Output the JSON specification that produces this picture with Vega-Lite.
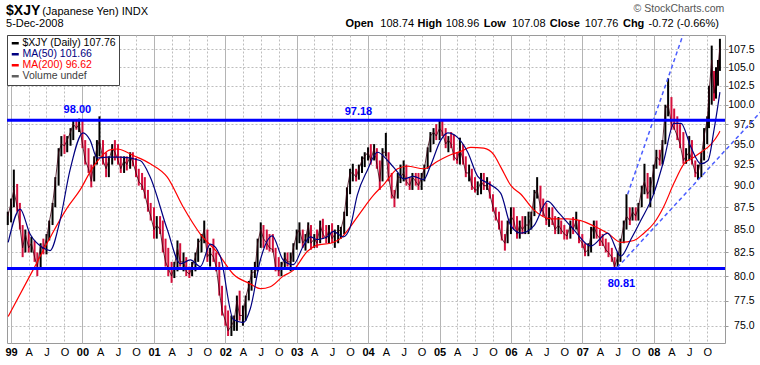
{
"$schema": "https://vega.github.io/schema/vega-lite/v6.json",
"width": 718, "height": 308,
"autosize": {"type": "none"},
"padding": {"left": 7, "top": 35, "right": 35, "bottom": 22},
"background": "white",
"config": {"view": {"stroke": "#9a9a9a", "strokeWidth": 1}, "font": "Liberation Sans"},
"datasets": {
"px": [
{"d":"1998-12-15","h":87.0,"l":85.5,"c":86.5},
{"d":"1999-01-01","h":88.5,"l":85.8,"c":88.0},
{"d":"1999-01-15","h":91.9,"l":87.5,"c":89.5},
{"d":"1999-02-01","h":90.2,"l":87.0,"c":87.5},
{"d":"1999-02-15","h":88.0,"l":85.0,"c":85.3},
{"d":"1999-03-01","h":85.5,"l":82.0,"c":83.0},
{"d":"1999-03-15","h":85.0,"l":82.5,"c":84.5},
{"d":"1999-04-01","h":84.8,"l":82.5,"c":83.0},
{"d":"1999-04-15","h":84.2,"l":82.5,"c":83.5},
{"d":"1999-05-01","h":83.8,"l":81.5,"c":82.0},
{"d":"1999-05-15","h":82.5,"l":80.0,"c":81.0},
{"d":"1999-06-01","h":83.5,"l":80.8,"c":83.2},
{"d":"1999-06-15","h":84.0,"l":82.3,"c":82.8},
{"d":"1999-07-01","h":84.5,"l":82.3,"c":84.0},
{"d":"1999-07-15","h":86.0,"l":83.8,"c":85.8},
{"d":"1999-08-01","h":88.0,"l":85.5,"c":87.8},
{"d":"1999-08-15","h":91.0,"l":87.5,"c":90.5},
{"d":"1999-09-01","h":94.5,"l":90.0,"c":94.0},
{"d":"1999-09-15","h":96.0,"l":93.5,"c":95.0},
{"d":"1999-10-01","h":96.2,"l":93.8,"c":94.8},
{"d":"1999-10-15","h":96.0,"l":94.0,"c":95.5},
{"d":"1999-11-01","h":97.0,"l":94.8,"c":96.5},
{"d":"1999-11-15","h":98.0,"l":95.5,"c":97.5},
{"d":"1999-12-01","h":98.0,"l":96.8,"c":97.0},
{"d":"1999-12-15","h":98.2,"l":96.5,"c":97.5},
{"d":"2000-01-01","h":98.0,"l":94.5,"c":95.0},
{"d":"2000-01-15","h":95.5,"l":92.5,"c":93.0},
{"d":"2000-02-01","h":94.5,"l":91.5,"c":92.0},
{"d":"2000-02-15","h":92.5,"l":89.8,"c":90.5},
{"d":"2000-03-01","h":93.5,"l":90.5,"c":93.0},
{"d":"2000-03-15","h":95.5,"l":92.5,"c":94.5},
{"d":"2000-03-28","h":98.5,"l":93.5,"c":95.5},
{"d":"2000-04-15","h":95.5,"l":92.5,"c":93.0},
{"d":"2000-05-01","h":94.0,"l":91.0,"c":92.0},
{"d":"2000-05-15","h":93.5,"l":91.0,"c":93.0},
{"d":"2000-06-01","h":95.0,"l":92.5,"c":94.5},
{"d":"2000-06-15","h":95.5,"l":93.0,"c":94.0},
{"d":"2000-07-01","h":95.0,"l":92.5,"c":93.0},
{"d":"2000-07-15","h":93.5,"l":91.5,"c":92.0},
{"d":"2000-08-01","h":93.5,"l":91.5,"c":93.0},
{"d":"2000-08-15","h":93.5,"l":91.8,"c":92.5},
{"d":"2000-09-01","h":94.0,"l":92.0,"c":93.5},
{"d":"2000-09-15","h":94.0,"l":92.3,"c":92.8},
{"d":"2000-10-01","h":93.3,"l":91.0,"c":91.5},
{"d":"2000-10-15","h":92.0,"l":90.0,"c":90.5},
{"d":"2000-11-01","h":91.5,"l":89.5,"c":90.0},
{"d":"2000-11-15","h":91.0,"l":88.5,"c":89.0},
{"d":"2000-12-01","h":89.5,"l":87.0,"c":87.5},
{"d":"2000-12-15","h":88.0,"l":86.0,"c":86.5},
{"d":"2001-01-01","h":87.5,"l":84.0,"c":85.0},
{"d":"2001-01-15","h":86.5,"l":84.0,"c":85.5},
{"d":"2001-02-01","h":86.5,"l":84.5,"c":85.0},
{"d":"2001-02-15","h":86.0,"l":82.5,"c":83.0},
{"d":"2001-03-01","h":84.0,"l":81.0,"c":81.5},
{"d":"2001-03-15","h":83.0,"l":80.0,"c":80.8},
{"d":"2001-04-01","h":81.5,"l":79.3,"c":80.0},
{"d":"2001-04-15","h":81.5,"l":79.8,"c":81.0},
{"d":"2001-05-01","h":83.8,"l":80.5,"c":83.0},
{"d":"2001-05-15","h":83.5,"l":81.0,"c":81.5},
{"d":"2001-06-01","h":82.5,"l":80.5,"c":81.5},
{"d":"2001-06-15","h":82.0,"l":80.0,"c":80.5},
{"d":"2001-07-01","h":81.0,"l":79.8,"c":80.2},
{"d":"2001-07-15","h":81.5,"l":80.0,"c":81.0},
{"d":"2001-08-01","h":82.5,"l":80.5,"c":82.0},
{"d":"2001-08-15","h":84.0,"l":81.5,"c":83.5},
{"d":"2001-09-01","h":84.5,"l":82.5,"c":84.0},
{"d":"2001-09-15","h":86.0,"l":83.5,"c":85.0},
{"d":"2001-10-01","h":85.0,"l":81.5,"c":82.0},
{"d":"2001-10-15","h":83.0,"l":81.0,"c":82.5},
{"d":"2001-11-01","h":84.0,"l":81.5,"c":82.0},
{"d":"2001-11-15","h":82.5,"l":80.5,"c":81.0},
{"d":"2001-12-01","h":81.5,"l":78.0,"c":78.5},
{"d":"2001-12-15","h":79.0,"l":76.0,"c":76.5},
{"d":"2002-01-01","h":77.0,"l":75.0,"c":75.5},
{"d":"2002-01-15","h":76.5,"l":74.0,"c":74.5},
{"d":"2002-02-01","h":76.0,"l":74.0,"c":75.0},
{"d":"2002-02-15","h":76.0,"l":74.5,"c":75.5},
{"d":"2002-03-01","h":78.0,"l":74.5,"c":77.5},
{"d":"2002-03-15","h":78.5,"l":75.5,"c":76.0},
{"d":"2002-04-01","h":77.0,"l":75.0,"c":76.0},
{"d":"2002-04-15","h":78.0,"l":75.5,"c":77.8},
{"d":"2002-05-01","h":79.5,"l":77.5,"c":79.0},
{"d":"2002-05-15","h":80.7,"l":78.5,"c":80.3},
{"d":"2002-06-01","h":81.5,"l":79.8,"c":80.5},
{"d":"2002-06-15","h":84.0,"l":80.5,"c":83.5},
{"d":"2002-07-01","h":85.8,"l":83.0,"c":85.0},
{"d":"2002-07-15","h":85.5,"l":83.0,"c":84.0},
{"d":"2002-08-01","h":85.0,"l":82.8,"c":83.5},
{"d":"2002-08-15","h":84.5,"l":82.6,"c":83.0},
{"d":"2002-09-01","h":84.5,"l":82.5,"c":82.8},
{"d":"2002-09-15","h":83.0,"l":80.5,"c":81.0},
{"d":"2002-10-01","h":82.0,"l":80.0,"c":80.5},
{"d":"2002-10-15","h":81.5,"l":80.0,"c":81.0},
{"d":"2002-11-01","h":82.5,"l":80.8,"c":82.0},
{"d":"2002-11-15","h":82.5,"l":81.0,"c":81.5},
{"d":"2002-12-01","h":82.5,"l":80.5,"c":81.5},
{"d":"2002-12-15","h":83.5,"l":81.5,"c":83.0},
{"d":"2003-01-01","h":85.0,"l":82.8,"c":84.5},
{"d":"2003-01-15","h":85.8,"l":83.5,"c":85.0},
{"d":"2003-02-01","h":85.0,"l":83.0,"c":83.5},
{"d":"2003-02-15","h":84.5,"l":82.7,"c":84.0},
{"d":"2003-03-01","h":85.8,"l":83.5,"c":85.5},
{"d":"2003-03-15","h":85.5,"l":82.8,"c":83.5},
{"d":"2003-04-01","h":84.5,"l":83.0,"c":84.0},
{"d":"2003-04-15","h":85.0,"l":83.0,"c":83.5},
{"d":"2003-05-01","h":86.0,"l":83.5,"c":85.5},
{"d":"2003-05-15","h":86.2,"l":84.0,"c":84.5},
{"d":"2003-06-01","h":85.5,"l":83.5,"c":84.0},
{"d":"2003-06-15","h":85.5,"l":83.5,"c":85.0},
{"d":"2003-07-01","h":85.7,"l":83.5,"c":84.0},
{"d":"2003-07-15","h":85.0,"l":83.0,"c":84.5},
{"d":"2003-08-01","h":85.5,"l":83.5,"c":84.8},
{"d":"2003-08-15","h":85.3,"l":84.0,"c":85.0},
{"d":"2003-09-01","h":87.0,"l":84.5,"c":86.5},
{"d":"2003-09-15","h":89.8,"l":86.5,"c":89.5},
{"d":"2003-10-01","h":92.0,"l":89.0,"c":91.5},
{"d":"2003-10-15","h":92.6,"l":90.5,"c":91.5},
{"d":"2003-11-01","h":92.0,"l":90.5,"c":91.0},
{"d":"2003-11-15","h":92.5,"l":90.7,"c":92.0},
{"d":"2003-12-01","h":93.5,"l":91.5,"c":93.0},
{"d":"2003-12-15","h":94.0,"l":92.2,"c":93.5},
{"d":"2004-01-01","h":94.6,"l":93.0,"c":94.0},
{"d":"2004-01-15","h":95.0,"l":92.5,"c":93.0},
{"d":"2004-02-01","h":95.0,"l":93.0,"c":94.5},
{"d":"2004-02-15","h":94.5,"l":92.0,"c":92.5},
{"d":"2004-03-01","h":93.0,"l":89.5,"c":90.5},
{"d":"2004-03-15","h":94.5,"l":90.5,"c":94.0},
{"d":"2004-04-01","h":96.4,"l":93.5,"c":94.0},
{"d":"2004-04-15","h":94.0,"l":90.5,"c":91.0},
{"d":"2004-05-01","h":91.5,"l":88.5,"c":89.0},
{"d":"2004-05-15","h":89.5,"l":87.5,"c":88.5},
{"d":"2004-06-01","h":91.5,"l":88.5,"c":91.0},
{"d":"2004-06-15","h":92.5,"l":90.3,"c":91.0},
{"d":"2004-07-01","h":93.0,"l":90.5,"c":91.5},
{"d":"2004-07-15","h":92.5,"l":90.0,"c":90.5},
{"d":"2004-08-01","h":91.0,"l":89.5,"c":90.0},
{"d":"2004-08-15","h":91.5,"l":89.5,"c":91.0},
{"d":"2004-09-01","h":91.5,"l":90.0,"c":90.5},
{"d":"2004-09-15","h":91.5,"l":89.5,"c":90.0},
{"d":"2004-10-01","h":91.5,"l":89.5,"c":91.0},
{"d":"2004-10-15","h":92.5,"l":90.5,"c":92.0},
{"d":"2004-11-01","h":94.6,"l":92.0,"c":94.5},
{"d":"2004-11-15","h":96.5,"l":94.0,"c":96.0},
{"d":"2004-12-01","h":97.0,"l":95.0,"c":96.5},
{"d":"2004-12-15","h":97.5,"l":95.5,"c":96.0},
{"d":"2005-01-01","h":98.0,"l":95.5,"c":97.0},
{"d":"2005-01-15","h":98.0,"l":96.0,"c":96.5},
{"d":"2005-02-01","h":97.0,"l":94.5,"c":95.0},
{"d":"2005-02-15","h":96.0,"l":94.0,"c":95.5},
{"d":"2005-03-01","h":96.5,"l":94.5,"c":95.0},
{"d":"2005-03-15","h":96.2,"l":93.0,"c":93.5},
{"d":"2005-04-01","h":94.0,"l":92.6,"c":93.0},
{"d":"2005-04-15","h":95.8,"l":92.5,"c":94.5},
{"d":"2005-05-01","h":95.0,"l":92.5,"c":93.0},
{"d":"2005-05-15","h":93.5,"l":91.0,"c":91.5},
{"d":"2005-06-01","h":92.5,"l":90.5,"c":91.5},
{"d":"2005-06-15","h":92.0,"l":89.5,"c":90.0},
{"d":"2005-07-01","h":91.0,"l":89.2,"c":89.5},
{"d":"2005-07-15","h":90.5,"l":88.9,"c":89.5},
{"d":"2005-08-01","h":91.5,"l":89.0,"c":90.5},
{"d":"2005-08-15","h":91.5,"l":89.5,"c":90.0},
{"d":"2005-09-01","h":91.0,"l":89.5,"c":90.0},
{"d":"2005-09-15","h":90.5,"l":88.5,"c":89.0},
{"d":"2005-10-01","h":89.0,"l":87.0,"c":87.5},
{"d":"2005-10-15","h":87.5,"l":86.0,"c":86.5},
{"d":"2005-11-01","h":87.0,"l":85.0,"c":85.5},
{"d":"2005-11-15","h":86.0,"l":83.8,"c":84.0},
{"d":"2005-12-01","h":84.5,"l":82.7,"c":83.5},
{"d":"2005-12-15","h":86.0,"l":83.5,"c":85.5},
{"d":"2006-01-01","h":87.5,"l":84.5,"c":86.5},
{"d":"2006-01-15","h":87.5,"l":85.0,"c":86.0},
{"d":"2006-02-01","h":86.5,"l":84.0,"c":84.5},
{"d":"2006-02-15","h":86.0,"l":84.0,"c":85.5},
{"d":"2006-03-01","h":86.5,"l":84.5,"c":85.0},
{"d":"2006-03-15","h":86.5,"l":84.5,"c":85.5},
{"d":"2006-04-01","h":87.0,"l":84.5,"c":85.5},
{"d":"2006-04-15","h":87.0,"l":85.0,"c":86.5},
{"d":"2006-05-01","h":89.5,"l":86.5,"c":89.0},
{"d":"2006-05-15","h":91.0,"l":88.5,"c":89.5},
{"d":"2006-06-01","h":90.0,"l":87.0,"c":87.5},
{"d":"2006-06-15","h":88.5,"l":86.5,"c":87.0},
{"d":"2006-07-01","h":88.0,"l":85.5,"c":86.0},
{"d":"2006-07-15","h":87.5,"l":85.3,"c":86.5},
{"d":"2006-08-01","h":87.5,"l":85.5,"c":86.0},
{"d":"2006-08-15","h":86.5,"l":84.5,"c":85.0},
{"d":"2006-09-01","h":86.4,"l":84.5,"c":85.5},
{"d":"2006-09-15","h":86.0,"l":84.5,"c":85.0},
{"d":"2006-10-01","h":85.5,"l":83.9,"c":84.5},
{"d":"2006-10-15","h":85.0,"l":83.9,"c":84.3},
{"d":"2006-11-01","h":86.0,"l":84.0,"c":85.5},
{"d":"2006-11-15","h":86.4,"l":84.5,"c":85.0},
{"d":"2006-12-01","h":87.0,"l":85.0,"c":86.0},
{"d":"2006-12-15","h":86.0,"l":83.5,"c":84.0},
{"d":"2007-01-01","h":84.5,"l":83.0,"c":83.5},
{"d":"2007-01-15","h":83.5,"l":82.1,"c":82.5},
{"d":"2007-02-01","h":83.5,"l":82.1,"c":82.8},
{"d":"2007-02-15","h":85.3,"l":82.5,"c":84.5},
{"d":"2007-03-01","h":86.0,"l":84.0,"c":85.5},
{"d":"2007-03-15","h":86.0,"l":84.0,"c":84.5},
{"d":"2007-04-01","h":85.0,"l":83.2,"c":84.0},
{"d":"2007-04-15","h":84.5,"l":83.2,"c":83.5},
{"d":"2007-05-01","h":84.0,"l":82.5,"c":82.8},
{"d":"2007-05-15","h":83.6,"l":82.0,"c":82.5},
{"d":"2007-06-01","h":83.0,"l":81.5,"c":82.0},
{"d":"2007-06-15","h":82.0,"l":80.81,"c":81.0},
{"d":"2007-07-01","h":82.5,"l":80.81,"c":82.0},
{"d":"2007-07-15","h":84.0,"l":81.5,"c":83.5},
{"d":"2007-08-01","h":86.0,"l":83.5,"c":85.5},
{"d":"2007-08-15","h":89.0,"l":85.0,"c":86.5},
{"d":"2007-09-01","h":87.5,"l":85.5,"c":86.0},
{"d":"2007-09-15","h":87.5,"l":86.0,"c":87.0},
{"d":"2007-10-01","h":87.5,"l":86.0,"c":86.5},
{"d":"2007-10-15","h":88.0,"l":86.0,"c":87.5},
{"d":"2007-11-01","h":90.0,"l":87.5,"c":89.5},
{"d":"2007-11-15","h":92.6,"l":89.0,"c":90.5},
{"d":"2007-12-01","h":91.5,"l":88.5,"c":89.0},
{"d":"2007-12-15","h":91.0,"l":87.5,"c":89.5},
{"d":"2008-01-01","h":92.5,"l":89.0,"c":92.0},
{"d":"2008-01-15","h":94.3,"l":92.0,"c":93.5},
{"d":"2008-02-01","h":94.3,"l":92.4,"c":93.0},
{"d":"2008-02-15","h":95.5,"l":92.5,"c":95.0},
{"d":"2008-03-01","h":100.0,"l":95.0,"c":99.5},
{"d":"2008-03-15","h":103.5,"l":98.5,"c":100.0},
{"d":"2008-04-01","h":101.0,"l":96.8,"c":97.5},
{"d":"2008-04-15","h":99.5,"l":96.8,"c":97.0},
{"d":"2008-05-01","h":98.5,"l":95.5,"c":96.0},
{"d":"2008-05-15","h":97.5,"l":94.5,"c":95.0},
{"d":"2008-06-01","h":96.5,"l":92.6,"c":93.0},
{"d":"2008-06-15","h":94.5,"l":92.6,"c":93.5},
{"d":"2008-07-01","h":96.0,"l":93.0,"c":94.0},
{"d":"2008-07-15","h":95.5,"l":92.5,"c":93.0},
{"d":"2008-08-01","h":93.0,"l":91.0,"c":91.5},
{"d":"2008-08-15","h":92.5,"l":90.7,"c":91.5},
{"d":"2008-09-01","h":94.0,"l":91.0,"c":93.5},
{"d":"2008-09-15","h":97.0,"l":93.0,"c":96.0},
{"d":"2008-10-01","h":98.5,"l":95.0,"c":98.0},
{"d":"2008-10-10","h":102.5,"l":97.0,"c":101.5},
{"d":"2008-10-24","h":108.0,"l":100.0,"c":106.0},
{"d":"2008-11-05","h":104.5,"l":100.5,"c":101.5},
{"d":"2008-11-15","h":105.0,"l":100.8,"c":103.0},
{"d":"2008-11-25","h":106.0,"l":102.5,"c":105.0},
{"d":"2008-12-05","h":108.96,"l":104.5,"c":107.76}
],
"m200": [
{"d":"1998-12-17","v":75.9},{"d":"1999-04-22","v":80.6},{"d":"1999-07-19","v":84.1},{"d":"1999-10-14","v":87.4},
{"d":"1999-12-20","v":89.5},{"d":"2000-02-24","v":92.2},{"d":"2000-05-22","v":94.3},{"d":"2000-06-27","v":94.4},
{"d":"2000-09-17","v":93.6},{"d":"2000-12-13","v":92.6},{"d":"2001-03-10","v":91.0},{"d":"2001-05-31","v":87.5},
{"d":"2001-08-26","v":84.5},{"d":"2001-11-21","v":82.5},{"d":"2002-02-11","v":80.2},{"d":"2002-05-09","v":79.2},
{"d":"2002-06-29","v":78.7},{"d":"2002-08-19","v":78.9},{"d":"2002-10-24","v":80.0},{"d":"2002-12-14","v":80.6},
{"d":"2003-02-24","v":82.6},{"d":"2003-04-16","v":83.3},{"d":"2003-06-22","v":83.5},{"d":"2003-08-12","v":84.0},
{"d":"2003-10-02","v":85.3},{"d":"2003-11-23","v":86.9},{"d":"2004-01-29","v":88.9},{"d":"2004-03-20","v":90.1},
{"d":"2004-05-31","v":92.0},{"d":"2004-07-21","v":92.3},{"d":"2004-10-11","v":92.0},{"d":"2004-12-22","v":92.9},
{"d":"2005-02-27","v":93.7},{"d":"2005-04-19","v":94.1},{"d":"2005-06-09","v":94.6},{"d":"2005-08-15","v":94.5},
{"d":"2005-10-05","v":93.7},{"d":"2005-11-10","v":92.2},{"d":"2006-01-01","v":90.0},{"d":"2006-02-21","v":89.0},
{"d":"2006-04-28","v":87.2},{"d":"2006-07-24","v":86.2},{"d":"2006-10-18","v":86.2},{"d":"2006-12-24","v":86.0},
{"d":"2007-02-28","v":85.4},{"d":"2007-05-11","v":84.6},{"d":"2007-07-17","v":83.6},{"d":"2007-09-22","v":83.8},
{"d":"2007-11-12","v":84.6},{"d":"2008-01-02","v":85.7},{"d":"2008-02-22","v":87.6},{"d":"2008-04-14","v":90.3},
{"d":"2008-06-04","v":92.6},{"d":"2008-07-25","v":93.4},{"d":"2008-08-30","v":94.0},{"d":"2008-10-21","v":95.0},
{"d":"2008-11-26","v":96.2},{"d":"2008-12-05","v":96.62}
],
"m50": [
{"d":"1998-12-17","v":83.6},{"d":"1999-02-16","v":87.3},{"d":"1999-04-08","v":84.5},{"d":"1999-06-13","v":83.0},
{"d":"1999-07-19","v":82.7},{"d":"1999-09-08","v":86.0},{"d":"1999-10-29","v":91.8},{"d":"2000-01-04","v":96.4},
{"d":"2000-02-09","v":95.5},{"d":"2000-03-16","v":93.3},{"d":"2000-05-06","v":93.4},{"d":"2000-07-12","v":93.4},
{"d":"2000-10-22","v":93.0},{"d":"2000-12-13","v":91.0},{"d":"2001-03-10","v":85.0},{"d":"2001-05-16","v":81.3},
{"d":"2001-07-06","v":81.7},{"d":"2001-08-26","v":81.0},{"d":"2001-10-16","v":83.4},{"d":"2001-12-06","v":82.1},
{"d":"2002-02-11","v":75.6},{"d":"2002-04-03","v":75.3},{"d":"2002-05-09","v":76.7},{"d":"2002-06-29","v":81.7},
{"d":"2002-08-29","v":84.3},{"d":"2002-10-24","v":81.7},{"d":"2002-12-14","v":81.2},{"d":"2003-02-04","v":83.2},
{"d":"2003-03-12","v":84.2},{"d":"2003-04-16","v":83.9},{"d":"2003-06-07","v":84.2},{"d":"2003-07-07","v":84.8},
{"d":"2003-08-27","v":84.2},{"d":"2003-10-02","v":85.3},{"d":"2003-11-07","v":88.9},{"d":"2003-12-28","v":91.8},
{"d":"2004-02-18","v":94.0},{"d":"2004-04-10","v":93.0},{"d":"2004-05-31","v":91.6},{"d":"2004-07-01","v":90.8},
{"d":"2004-08-21","v":91.1},{"d":"2004-10-11","v":90.7},{"d":"2004-11-16","v":92.4},{"d":"2005-01-07","v":95.5},
{"d":"2005-02-12","v":96.4},{"d":"2005-04-04","v":95.8},{"d":"2005-05-25","v":94.0},{"d":"2005-07-15","v":91.1},
{"d":"2005-09-04","v":90.3},{"d":"2005-10-26","v":89.5},{"d":"2005-11-10","v":89.1},{"d":"2006-01-01","v":85.4},
{"d":"2006-02-21","v":84.6},{"d":"2006-04-28","v":85.4},{"d":"2006-07-08","v":88.2},{"d":"2006-08-28","v":87.0},
{"d":"2006-11-18","v":85.0},{"d":"2007-02-13","v":83.2},{"d":"2007-05-11","v":84.6},{"d":"2007-07-17","v":82.1},
{"d":"2007-09-06","v":83.9},{"d":"2007-10-27","v":86.0},{"d":"2008-01-02","v":89.1},{"d":"2008-02-22","v":93.0},
{"d":"2008-04-14","v":97.6},{"d":"2008-05-20","v":97.6},{"d":"2008-07-10","v":94.6},{"d":"2008-08-30","v":92.6},
{"d":"2008-10-05","v":93.0},{"d":"2008-11-05","v":96.8},{"d":"2008-12-05","v":101.66}
],
"hl": [{"v":98.0},{"v":80.81}],
"t1": [{"d":"2007-08-21","v":89.0},{"d":"2008-05-30","v":109.5}],
"t2": [{"d":"2007-06-29","v":80.9},{"d":"2009-07-03","v":99.1}],
"lv": [{"t":"98.00","d":"1999-12-06","v":99.3},{"t":"97.18","d":"2003-11-13","v":99.0},{"t":"80.81","d":"2007-07-20","v":79.15}],
"h1": [{"t":"$XJY","d":"1998-12-06","v":112.43}],
"h2": [{"t":"(Japanese Yen) INDX","d":"1999-06-09","v":112.43},{"t":"5-Dec-2008","d":"1998-12-06","v":110.66}],
"hb": [{"t":"Open","d":"2003-09-07","v":110.66},{"t":"High","d":"2004-09-10","v":110.66},{"t":"Low","d":"2005-08-15","v":110.66},{"t":"Close","d":"2006-07-19","v":110.66},{"t":"Chg","d":"2007-07-28","v":110.66}],
"hn": [{"t":"108.74","d":"2004-03-04","v":110.66},{"t":"108.96","d":"2005-02-01","v":110.66},{"t":"107.08","d":"2006-01-06","v":110.66},{"t":"107.76","d":"2007-01-14","v":110.66},{"t":"-0.72 (-0.66%)","d":"2007-12-06","v":110.66}],
"hc": [{"t":"© StockCharts.com","d":"2008-12-27","v":112.8}]
},
"layer": [
{
"data": {"name": "px"},
"transform": [{"window": [{"op": "lag", "field": "c", "as": "pc"}], "sort": [{"field": "d"}]}],
"mark": {"type": "rule", "strokeWidth": 2},
"encoding": {
"x": {"field": "d", "type": "temporal",
"scale": {"type": "utc", "domain": [913334400000, 1230681600000]},
"axis": {"title": null, "tickCount": {"interval": "month", "step": 3},
"labelExpr": "utcmonth(datum.value) == 0 ? utcFormat(datum.value, '%y') : utcmonth(datum.value) == 3 ? 'A' : utcmonth(datum.value) == 6 ? 'J' : 'O'",
"labelFontWeight": {"condition": {"test": "utcmonth(datum.value) == 0", "value": "bold"}, "value": "normal"},
"labelColor": "#000000", "labelFont": "Liberation Sans", "labelFontSize": 11, "labelPadding": 3, "labelFlush": false, "labelOverlap": false,
"ticks": false, "domain": false, "grid": true,
"gridColor": {"condition": {"test": "utcmonth(datum.value) == 0", "value": "#b4b4b4"}, "value": "#bdbdbd"},
"gridDash": {"condition": {"test": "utcmonth(datum.value) == 0", "value": []}, "value": [2, 2]}}},
"y": {"field": "l", "type": "quantitative",
"scale": {"type": "log", "domain": [73.33, 109.5], "nice": false, "zero": false},
"axis": {"title": null, "orient": "right", "values": [75,77.5,80,82.5,85,87.5,90,92.5,95,97.5,100,102.5,105,107.5], "format": ".1f",
"labelAlign": "right", "labelPadding": 26, "tickSize": 3, "tickColor": "#999999", "domain": false, "grid": true,
"gridColor": "#bdbdbd", "gridDash": [2, 2], "labelFont": "Liberation Sans", "labelFontSize": 10.5, "labelColor": "#000000"}},
"y2": {"field": "h"},
"color": {"condition": {"test": "datum.c < datum.pc", "value": "#d4103c"}, "value": "#000000"}
}
},
{
"data": {"name": "px"},
"mark": {"type": "line", "strokeWidth": 0.8, "color": "#3a0010"},
"encoding": {"x": {"field": "d", "type": "temporal"}, "y": {"field": "c", "type": "quantitative"}}
},
{
"data": {"name": "m200"},
"mark": {"type": "line", "strokeWidth": 1.2, "interpolate": "monotone"},
"encoding": {"x": {"field": "d", "type": "temporal"}, "y": {"field": "v", "type": "quantitative"},
"color": {"datum": "MA(200) 96.62", "type": "nominal",
"scale": {"domain": ["$XJY (Daily) 107.76", "MA(50) 101.66", "MA(200) 96.62", "Volume undef"], "range": ["#000000", "#000080", "#ff0000", "#606060"]},
"legend": {"title": null, "orient": "top-left", "offset": 0, "fillColor": "white", "strokeColor": "#444444", "padding": 3,
"symbolType": "stroke", "symbolSize": 49, "symbolStrokeWidth": 2.5, "rowPadding": -0.5, "labelFontSize": 10.5, "labelOffset": 2,
"labelFont": "Liberation Sans", "labelLimit": 300,
"encode": {"labels": {"update": {
"fill": {"signal": "datum.value == 'MA(50) 101.66' ? '#000080' : datum.value == 'MA(200) 96.62' ? '#ff0000' : datum.value == 'Volume undef' ? '#404040' : '#000000'"}}}}}}}
},
{
"data": {"name": "m50"},
"mark": {"type": "line", "strokeWidth": 1.2, "interpolate": "monotone"},
"encoding": {"x": {"field": "d", "type": "temporal"}, "y": {"field": "v", "type": "quantitative"},
"color": {"datum": "MA(50) 101.66", "type": "nominal"}}
},
{
"data": {"name": "hl"},
"mark": {"type": "rule", "color": "#0000ff", "strokeWidth": 3},
"encoding": {"y": {"field": "v", "type": "quantitative"}}
},
{
"data": {"name": "t1"},
"mark": {"type": "line", "color": "#4a5cff", "strokeWidth": 1.5, "strokeDash": [4, 3], "clip": true},
"encoding": {"x": {"field": "d", "type": "temporal"}, "y": {"field": "v", "type": "quantitative"}}
},
{
"data": {"name": "t2"},
"mark": {"type": "line", "color": "#4a5cff", "strokeWidth": 1.5, "strokeDash": [4, 3]},
"encoding": {"x": {"field": "d", "type": "temporal"}, "y": {"field": "v", "type": "quantitative"}}
},
{
"data": {"name": "lv"},
"mark": {"type": "text", "color": "#0000ff", "fontWeight": "bold", "fontSize": 11, "font": "Liberation Sans", "align": "center", "baseline": "middle"},
"encoding": {"x": {"field": "d", "type": "temporal"}, "y": {"field": "v", "type": "quantitative"}, "text": {"field": "t"}}
},
{
"data": {"name": "h1"},
"mark": {"type": "text", "color": "#000000", "fontWeight": "bold", "fontSize": 14, "font": "Liberation Sans", "align": "left", "baseline": "alphabetic"},
"encoding": {"x": {"field": "d", "type": "temporal"}, "y": {"field": "v", "type": "quantitative"}, "text": {"field": "t"}}
},
{
"data": {"name": "h2"},
"mark": {"type": "text", "color": "#000000", "fontSize": 11, "font": "Liberation Sans", "align": "left", "baseline": "alphabetic"},
"encoding": {"x": {"field": "d", "type": "temporal"}, "y": {"field": "v", "type": "quantitative"}, "text": {"field": "t"}}
},
{
"data": {"name": "hb"},
"mark": {"type": "text", "color": "#000000", "fontWeight": "bold", "fontSize": 11, "font": "Liberation Sans", "align": "left", "baseline": "alphabetic"},
"encoding": {"x": {"field": "d", "type": "temporal"}, "y": {"field": "v", "type": "quantitative"}, "text": {"field": "t"}}
},
{
"data": {"name": "hn"},
"mark": {"type": "text", "color": "#000000", "fontSize": 11, "font": "Liberation Sans", "align": "left", "baseline": "alphabetic"},
"encoding": {"x": {"field": "d", "type": "temporal"}, "y": {"field": "v", "type": "quantitative"}, "text": {"field": "t"}}
},
{
"data": {"name": "hc"},
"mark": {"type": "text", "color": "#555555", "fontSize": 10.5, "font": "Liberation Sans", "align": "right", "baseline": "alphabetic"},
"encoding": {"x": {"field": "d", "type": "temporal"}, "y": {"field": "v", "type": "quantitative"}, "text": {"field": "t"}}
}
]
}
